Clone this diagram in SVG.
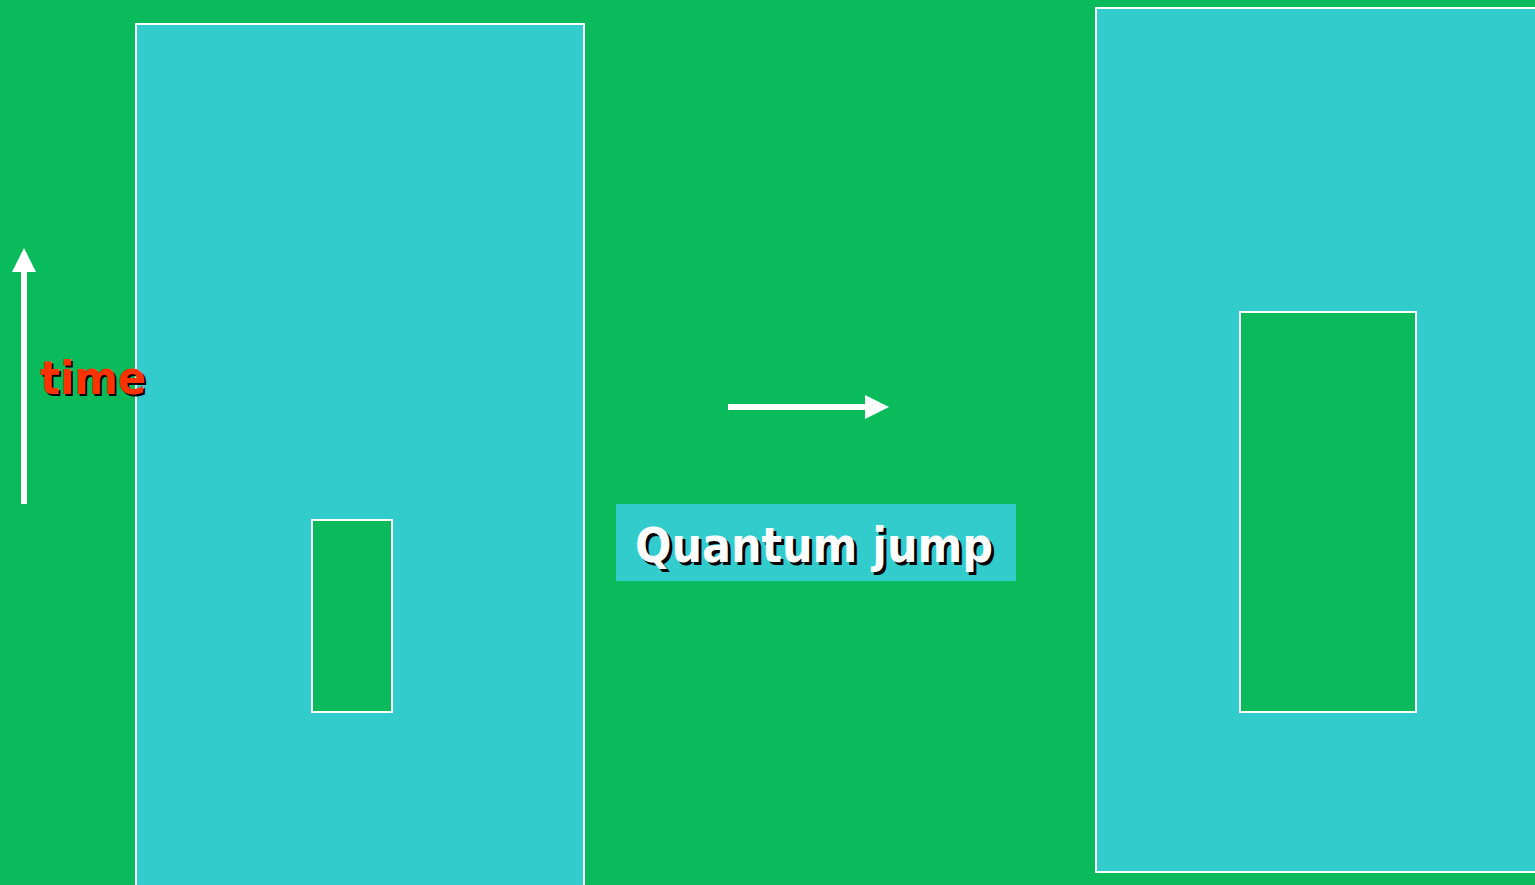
<svg xmlns="http://www.w3.org/2000/svg" width="1535" height="885" viewBox="0 0 1535 885">
<style>
.box{fill:#33CCCC;stroke:#FFFFFF;stroke-width:2}
.inner{fill:#0ABB5C;stroke:#FFFFFF;stroke-width:2}
.lbl{font-family:"DejaVu Sans","Verdana",sans-serif;font-weight:bold}
.conn{stroke:#FFFFFF;stroke-width:6;fill:none}
</style>
<defs>
<marker id="ah" viewBox="0 0 10 10" refX="0" refY="5" markerWidth="4" markerHeight="4" markerUnits="strokeWidth" orient="auto">
<path d="M0,0 L10,5 L0,10 Z" fill="#FFFFFF"/>
</marker>
</defs>
<rect x="0" y="0" width="1535" height="885" fill="#0ABB5C"/>
<g id="left-block">
<rect class="box" x="136" y="24" width="448" height="870"/>
<rect class="inner" x="312" y="520" width="80" height="192"/>
</g>
<g id="right-block">
<rect class="box" x="1096" y="8" width="450" height="864"/>
<rect class="inner" x="1240" y="312" width="176" height="400"/>
</g>
<g id="connectors">
<line class="conn" x1="24" y1="504" x2="24" y2="272" marker-end="url(#ah)"/>
<line class="conn" x1="728" y1="407" x2="865" y2="407" marker-end="url(#ah)"/>
</g>
<g id="time-label">
<text class="lbl" x="42" y="396" font-size="46" fill="#000000" textLength="106" lengthAdjust="spacingAndGlyphs">time</text>
<text class="lbl" x="40" y="394" font-size="46" fill="#FF3300" textLength="106" lengthAdjust="spacingAndGlyphs">time</text>
</g>
<g id="quantum-jump">
<rect x="616" y="504" width="400" height="77" fill="#33CCCC"/>
<text class="lbl" x="638" y="565" font-size="48" fill="#000000" textLength="358" lengthAdjust="spacingAndGlyphs">Quantum jump</text>
<text class="lbl" x="635" y="562" font-size="48" fill="#FFFFFF" textLength="358" lengthAdjust="spacingAndGlyphs">Quantum jump</text>
</g>
</svg>
